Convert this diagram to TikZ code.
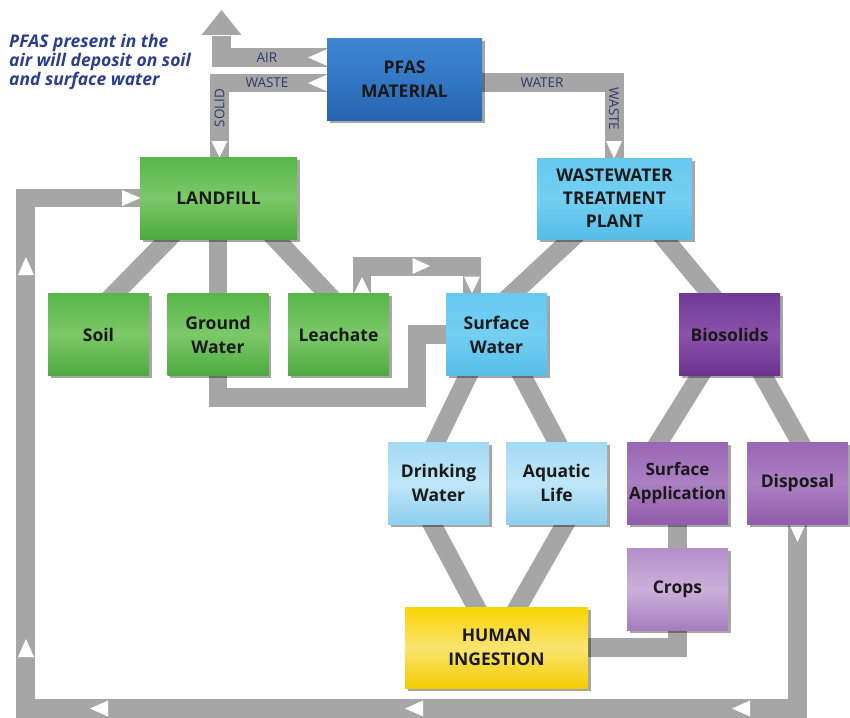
\documentclass[tikz,border=0pt]{standalone}
\usepackage{fontspec}
\setmainfont{Open Sans}
\usetikzlibrary{shadows,calc}
\definecolor{bandgray}{HTML}{A6A6A6}
\definecolor{lblcol}{HTML}{2E3B6C}
\definecolor{notecol}{HTML}{2A3D8F}
\definecolor{gTop}{HTML}{58B649}
\definecolor{gMid}{HTML}{7CC86A}
\definecolor{gBot}{HTML}{4DAA3F}
\definecolor{bTop}{HTML}{3D86D2}
\definecolor{bMid}{HTML}{3377C4}
\definecolor{bBot}{HTML}{2863AD}
\definecolor{cTop}{HTML}{66C9F0}
\definecolor{cMid}{HTML}{74CFF2}
\definecolor{cBot}{HTML}{55BDE8}
\definecolor{lTop}{HTML}{A3DAF3}
\definecolor{lMid}{HTML}{C0E6F8}
\definecolor{lBot}{HTML}{8ED0EF}
\definecolor{dpTop}{HTML}{6E3A98}
\definecolor{dpMid}{HTML}{8C52AB}
\definecolor{dpBot}{HTML}{6A3391}
\definecolor{mpTop}{HTML}{9966B3}
\definecolor{mpMid}{HTML}{AC80C2}
\definecolor{mpBot}{HTML}{915CAC}
\definecolor{lpTop}{HTML}{B48FC9}
\definecolor{lpMid}{HTML}{CBB0DA}
\definecolor{lpBot}{HTML}{A57CBD}
\definecolor{yTop}{HTML}{F8D400}
\definecolor{yMid}{HTML}{FAE470}
\definecolor{yBot}{HTML}{F3CC00}
\pgfdeclarelayer{bg}
\pgfsetlayers{bg,main}
\tikzset{
  band/.style={draw=bandgray, line width=18.5pt, line join=miter},
  diag/.style={band, shorten <=-14pt, shorten >=-14pt},
  tri/.style={fill=white},
  box/.style={minimum width=101pt, minimum height=82pt, inner sep=1pt, align=center,
    text=black!90, font=\fontsize{17.5}{24}\selectfont\bfseries,
    drop shadow={shadow xshift=2.5pt, shadow yshift=-2.5pt, opacity=0.35, fill=black}},
  greenbox/.style={box, top color=gTop, bottom color=gBot, middle color=gMid},
  bluebox/.style={box, top color=bTop, bottom color=bBot, middle color=bMid},
  cyanbox/.style={box, top color=cTop, bottom color=cBot, middle color=cMid},
  lightbluebox/.style={box, top color=lTop, bottom color=lBot, middle color=lMid},
  dpbox/.style={box, top color=dpTop, bottom color=dpBot, middle color=dpMid},
  mpbox/.style={box, top color=mpTop, bottom color=mpBot, middle color=mpMid},
  lpbox/.style={box, top color=lpTop, bottom color=lpBot, middle color=lpMid},
  ybox/.style={box, top color=yTop, bottom color=yBot, middle color=yMid},
  lbl/.style={text=lblcol, font=\fontsize{13.5}{14}\selectfont, inner sep=0pt},
}
\begin{document}
\begin{tikzpicture}[x=1pt,y=-1pt]
\useasboundingbox (0,0) rectangle (850,717);

% ---------- boxes ----------
\node[bluebox, minimum width=155pt, minimum height=81pt] (pfas) at (404.5,79.5) {PFAS\\MATERIAL};
\node[greenbox, minimum width=157pt] (landfill) at (218.5,198) {LANDFILL};
\node[cyanbox, minimum width=155pt, minimum height=81pt, font=\fontsize{17.5}{23}\selectfont\bfseries] (wwtp) at (614.5,198.5) {WASTEWATER\\TREATMENT\\PLANT};
\node[greenbox] (soil) at (98.5,334.5) {Soil};
\node[greenbox] (gw) at (218,334.5) {Ground\\Water};
\node[greenbox] (leach) at (338.5,334.5) {Leachate};
\node[cyanbox] (sw) at (496.5,334.5) {Surface\\Water};
\node[dpbox] (bio) at (729.5,334.5) {Biosolids};
\node[lightbluebox] (dw) at (438.5,483) {Drinking\\Water};
\node[lightbluebox] (al) at (556.5,483) {Aquatic\\Life};
\node[mpbox, inner sep=0pt, font=\fontsize{17}{24}\selectfont\bfseries] (sa) at (677.5,483) {Surface\\Application};
\node[mpbox] (disp) at (797.5,483) {Disposal};
\node[lpbox] (crops) at (677.5,589.5) {Crops};
\node[ybox, minimum width=183pt, minimum height=81pt] (hi) at (496.5,647.5) {HUMAN\\INGESTION};

% ---------- note ----------
\node[anchor=north west, inner sep=0pt, align=left, text=notecol,
  font=\fontsize{17.5}{19}\selectfont\bfseries\itshape] (note) at (9,34)
  {PFAS present in the\\air will deposit on soil\\and surface water};

\coordinate (airtop) at (221.5,35);

\begin{pgfonlayer}{bg}
% air
\draw[band] ($(pfas.west)+(0,-22)$) -| ($(airtop)+(0,1)$);
\fill[bandgray] ($(airtop)+(-20,0)$) -- ($(airtop)+(20,0)$) -- ($(airtop)+(0,-25)$) -- cycle;
% waste / solid
\draw[band] ($(pfas.west)+(0,3.5)$) -| ($(landfill.north)+(1,0)$);
% water / waste
\draw[band] ($(pfas.east)+(0,3)$) -| (wwtp.north);
% landfill branches
\draw[diag] ($(landfill.south)+(-50.5,0)$) -- ($(soil.north)+(16.5,0)$);
\draw[band] (gw.north) -- (gw.north |- landfill.south);
\draw[diag] ($(landfill.south)+(57.5,0)$) -- ($(leach.north)+(-11.5,0)$);
% leachate -> surface water
\draw[band] ($(leach.north)+(23.5,0)$) -- ++(0,-27) -| ($(sw.north)+(-24.5,0)$);
% ground water -> surface water
\draw[band] (gw.south) -- ++(0,22) -| ($(sw.west)+(-29,0)$) -- (sw.west);
% wwtp branches
\draw[diag] ($(wwtp.south)+(-43.5,0)$) -- ($(sw.north)+(16.5,0)$);
\draw[diag] ($(wwtp.south)+(50.5,0)$) -- ($(bio.north)+(-19.5,0)$);
% surface water branches
\draw[diag] ($(sw.south)+(-28.5,0)$) -- ($(dw.north)+(-2.5,0)$);
\draw[diag] ($(sw.south)+(25.5,0)$) -- ($(al.north)+(0.5,0)$);
% biosolids branches
\draw[diag] ($(bio.south)+(-29.5,0)$) -- ($(sa.north)+(-18.5,0)$);
\draw[diag] ($(bio.south)+(33.5,0)$) -- ($(disp.north)+(2.5,0)$);
% to human ingestion
\draw[diag] ($(dw.south)+(-6.5,0)$) -- ($(hi.north)+(-20.5,0)$);
\draw[diag] ($(al.south)+(8.5,0)$) -- ($(hi.north)+(21.5,0)$);
\draw[band] (sa.south) -- (crops.north);
\draw[band] (crops.south) |- (hi.east);
% big return loop
\draw[band] (disp.south) -- ++(0,184.5) -| ($(landfill.west)+(-114.5,0)$) -- (landfill.west);

% white arrow marks
\fill[tri] (308,57.5) -- (327.5,49) -- (327.5,66) -- cycle;
\fill[tri] (308,83) -- (327.5,74.5) -- (327.5,91.5) -- cycle;
\fill[tri] (211.5,141) -- (227.5,141) -- (219.5,157.5) -- cycle;
\fill[tri] (606,141) -- (622,141) -- (614,158.5) -- cycle;
\fill[tri] (354,293.5) -- (370,293.5) -- (362,277) -- cycle;
\fill[tri] (412.5,258) -- (412.5,274) -- (430,266) -- cycle;
\fill[tri] (464,276.5) -- (480,276.5) -- (472,293.5) -- cycle;
\fill[tri] (789.5,524.5) -- (805.5,524.5) -- (797.5,542) -- cycle;
\fill[tri] (750,700.5) -- (750,716.5) -- (732,708.5) -- cycle;
\fill[tri] (423,700.5) -- (423,716.5) -- (405,708.5) -- cycle;
\fill[tri] (108,700.5) -- (108,716.5) -- (90,708.5) -- cycle;
\fill[tri] (18,657) -- (34,657) -- (26,639) -- cycle;
\fill[tri] (18,275) -- (34,275) -- (26,257) -- cycle;
\fill[tri] (122,190) -- (122,206) -- (140.5,198) -- cycle;
\end{pgfonlayer}

% ---------- band labels ----------
\node[lbl] (lair) at (267,57.5) {AIR};
\node[lbl] (lwaste) at (267,83) {WASTE};
\node[lbl, rotate=90] (lsolid) at (219.5,108) {SOLID};
\node[lbl] (lwater) at (542,82.5) {WATER};
\node[lbl, rotate=-90] (lwaste2) at (614,109) {WASTE};
\end{tikzpicture}
\end{document}
